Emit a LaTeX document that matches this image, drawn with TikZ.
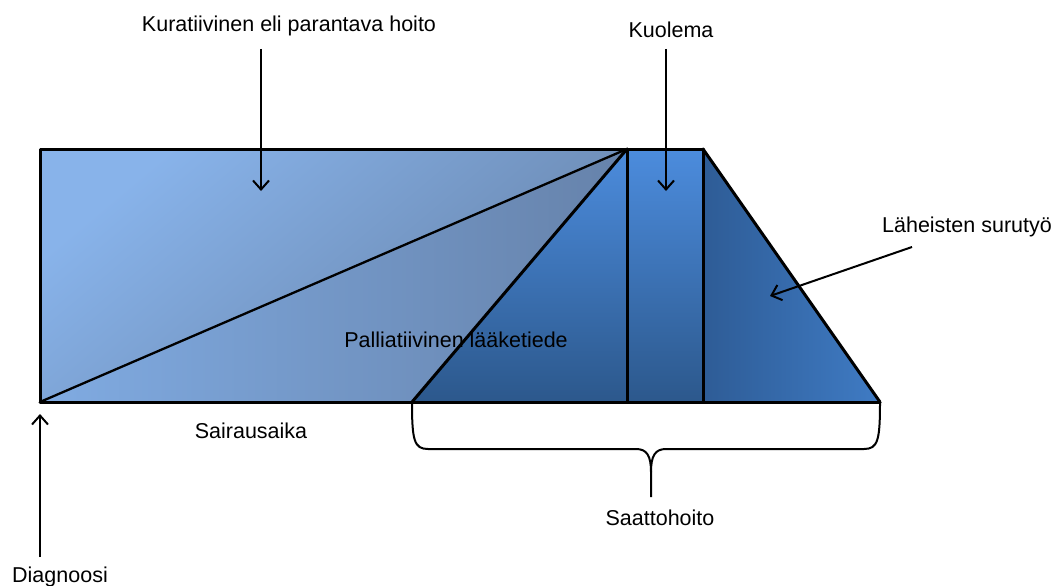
\documentclass[tikz,border=0pt]{standalone}
\usepackage{fontspec}
\setmainfont{Liberation Sans}
\usetikzlibrary{arrows.meta}
\definecolor{ulA}{HTML}{88B3EA}
\definecolor{ulB}{HTML}{6783A9}
\definecolor{llA}{HTML}{80ABE2}
\definecolor{llB}{HTML}{6682AA}
\definecolor{trA}{HTML}{4C8CDD}
\definecolor{trB}{HTML}{2C588C}
\definecolor{rtA}{HTML}{2E5C96}
\definecolor{rtB}{HTML}{3F7BC4}
\begin{document}
\begin{tikzpicture}[x=1pt,y=-1pt,
  lbl/.style={font=\fontsize{21.5}{25}\selectfont, text=black, inner sep=0pt, anchor=base},
  ptr/.style={line width=2pt, -{Straight Barb[length=9pt,width=16pt,line width=2pt]}},
  thick edge/.style={line width=3pt, line cap=round, line join=round},
  thin edge/.style={line width=2.3pt, line cap=round}]
\useasboundingbox (0,0) rectangle (1055,586);
% corner coordinates
\coordinate (tl) at (40,149);
\coordinate (bl) at (40,402);
\coordinate (apex) at (627,149);
\coordinate (apexb) at (627,402);
\coordinate (kt) at (703,149);
\coordinate (kb) at (703,402);
\coordinate (pl) at (412,402);
\coordinate (br) at (880,402);
% fills
\fill[top color=ulA, bottom color=ulB, shading angle=40] (tl) -- (apex) -- (bl) -- cycle;
\fill[left color=llA, right color=llB] (bl) -- (apex) -- (apexb) -- cycle;
\fill[top color=trA, bottom color=trB] (pl) -- (apex) -- (apexb) -- cycle;
\fill[top color=trA, bottom color=trB] (apex) rectangle (kb);
\fill[left color=rtA, right color=rtB] (kt) -- (br) -- (kb) -- cycle;
% label lying under the outlines
\node[lbl] (pal) at (456,347) {Palliatiivinen lääketiede};
% outlines
\draw[thin edge] (bl) -- (apex);
\draw[thick edge] (pl) -- (apex);
\draw[thick edge] (apex) -- (apexb);
\draw[thick edge] (kt) -- (kb);
\draw[thick edge] (kt) -- (br);
\draw[thick edge] (bl) -- (tl) -- (kt);
\draw[thick edge] (bl) -- (br);
% labels
\node[lbl] (kur) at (289,32) {Kuratiivinen eli parantava hoito};
\node[lbl] (kuo) at (671,38) {Kuolema};
\node[lbl] (lah) at (967,232) {Läheisten surutyö};
\node[lbl] (sai) at (251,438) {Sairausaika};
\node[lbl] (saa) at (660,525) {Saattohoito};
\node[lbl] (dia) at (60,582) {Diagnoosi};
% arrow endpoints
\coordinate (kurS) at (261,49);
\coordinate (kurE) at (261,191);
\coordinate (kuoS) at (666,49);
\coordinate (kuoE) at (666,191);
\coordinate (lahS) at (912,247);
\coordinate (lahE) at (770,296);
\coordinate (diaS) at (40,557);
\coordinate (diaE) at (40,414);
\draw[ptr] (kurS) -- (kurE);
\draw[ptr] (kuoS) -- (kuoE);
\draw[ptr] (lahS) -- (lahE);
\draw[ptr] (diaS) -- (diaE);
% brace
\coordinate (bt) at (651,497);
\draw[line width=2pt, line join=round]
  (pl) .. controls (412,440) and (414,449) .. (428,449)
  -- (636,449) .. controls (647,449) and (651,456) .. (651,472) -- (bt);
\draw[line width=2pt, line join=round]
  (651,472) .. controls (651,456) and (655,449) .. (666,449)
  -- (864,449) .. controls (878,449) and (880,440) .. (br);
\end{tikzpicture}
\end{document}
